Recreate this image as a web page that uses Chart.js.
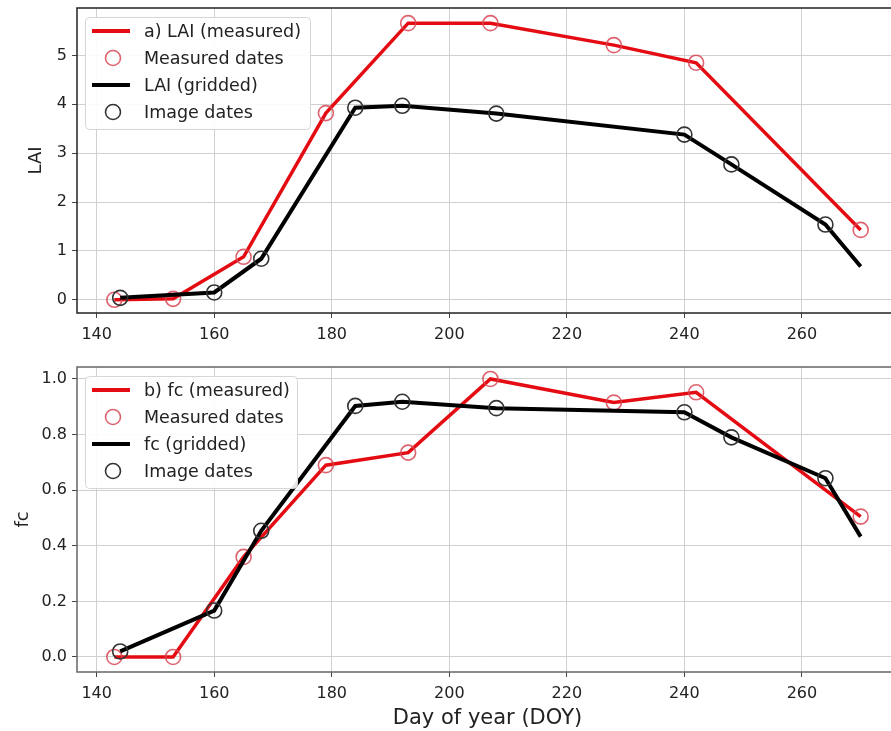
<!DOCTYPE html>
<html>
<head>
<meta charset="utf-8">
<script src="https://cdn.jsdelivr.net/npm/chart.js@4.4.0/dist/chart.umd.min.js"></script>
<style>
  html, body { margin: 0; padding: 0; background: #fff; }
  #clip { width: 891px; height: 731px; overflow: hidden; position: relative; }
  #inner { width: 900px; }
  canvas { display: block; }
</style>
</head>
<body>
<div id="clip">
  <div id="inner">
    <canvas id="laiChart" width="900" height="360" style="width:900px;height:360px"></canvas>
    <canvas id="fcChart" width="900" height="371" style="width:900px;height:371px"></canvas>
  </div>
</div>
<script>
// values
const measuredDoy = [143, 153, 165, 179, 193, 207, 228, 242, 270];
const imageDoy = [144, 160, 168, 184, 192, 208, 240, 248, 264, 270];
const laiMeasured = [0.0, 0.02, 0.88, 3.82, 5.66, 5.66, 5.21, 4.85, 1.43];
const laiGridded = [0.04, 0.15, 0.84, 3.93, 3.97, 3.81, 3.38, 2.77, 1.54, 0.68];
const fcMeasured = [0.0, 0.0, 0.36, 0.69, 0.735, 1.0, 0.915, 0.952, 0.505];
const fcGridded = [0.02, 0.167, 0.454, 0.903, 0.918, 0.895, 0.88, 0.79, 0.643, 0.433];
const doyTicks = [140, 160, 180, 200, 220, 240, 260];
const laiTicks = [0, 1, 2, 3, 4, 5];
const fcTicks = [0, 0.2, 0.4, 0.6, 0.8, 1.0];
const laiLegend = ['a) LAI (measured)', 'Measured dates', 'LAI (gridded)', 'Image dates'];
const fcLegend = ['b) fc (measured)', 'Measured dates', 'fc (gridded)', 'Image dates'];

const RED = 'rgb(228,12,18)';
const RED_RING = 'rgba(215,70,85,0.85)';
const BLACK = '#000';
const BLACK_RING = '#333';
const FONT = "'DejaVu Sans', sans-serif";

function pts(xs, ys) {
  return xs.map((x, i) => ({ x: x, y: ys[i] }));
}

// matplotlib-like frame around the plot area (right side falls outside the clip)
function framePlugin(color) {
  return {
    id: 'frame',
    afterDraw(chart) {
      const a = chart.chartArea, ctx = chart.ctx;
      ctx.save();
      ctx.strokeStyle = color;
      ctx.lineWidth = 1.5;
      ctx.strokeRect(a.left, a.top, a.right - a.left, a.bottom - a.top);
      ctx.restore();
    }
  };
}

// legend drawn inside the axes, upper left
function legendPlugin(labels, boxW) {
  return {
    id: 'insideLegend',
    afterDraw(chart) {
      const ctx = chart.ctx, a = chart.chartArea;
      const x = a.left + 8, y = a.top + 9, h = 112;
      ctx.save();
      ctx.fillStyle = 'rgba(255,255,255,0.9)';
      ctx.strokeStyle = '#d6d6d6';
      ctx.lineWidth = 1;
      ctx.beginPath();
      ctx.roundRect(x + 0.5, y + 0.5, boxW, h, 4);
      ctx.fill();
      ctx.stroke();

      const rows = [14, 41, 68, 95];
      ctx.lineCap = 'butt';
      // red line
      ctx.strokeStyle = RED; ctx.lineWidth = 4;
      ctx.beginPath(); ctx.moveTo(x + 7, y + rows[0]); ctx.lineTo(x + 45, y + rows[0]); ctx.stroke();
      // red ring
      ctx.strokeStyle = RED_RING; ctx.lineWidth = 1.6;
      ctx.beginPath(); ctx.arc(x + 28, y + rows[1], 7.5, 0, Math.PI * 2); ctx.stroke();
      // black line
      ctx.strokeStyle = BLACK; ctx.lineWidth = 4;
      ctx.beginPath(); ctx.moveTo(x + 7, y + rows[2]); ctx.lineTo(x + 45, y + rows[2]); ctx.stroke();
      // black ring
      ctx.strokeStyle = BLACK_RING; ctx.lineWidth = 1.6;
      ctx.beginPath(); ctx.arc(x + 28, y + rows[3], 7.5, 0, Math.PI * 2); ctx.stroke();

      ctx.fillStyle = '#222';
      ctx.font = '17.5px ' + FONT;
      ctx.textBaseline = 'middle';
      labels.forEach((t, i) => ctx.fillText(t, x + 59, y + rows[i] + 1));
      ctx.restore();
    }
  };
}

function makeChart(id, cfg) {
  const ringRadius = imageDoy.map((d, i) => (i < imageDoy.length - 1 ? 7.5 : 0));
  return new Chart(document.getElementById(id), {
    type: 'scatter',
    data: {
      datasets: [
        {
          label: cfg.legend[0],
          data: pts(measuredDoy, cfg.measured),
          showLine: true,
          borderColor: RED,
          borderWidth: 3.5,
          pointRadius: 7.5,
          pointBorderWidth: 1.6,
          pointBorderColor: RED_RING,
          pointBackgroundColor: 'rgba(0,0,0,0)',
          order: 2
        },
        {
          label: cfg.legend[2],
          data: pts(imageDoy, cfg.gridded),
          showLine: true,
          borderColor: BLACK,
          borderWidth: 4,
          pointRadius: ringRadius,
          pointBorderWidth: 1.6,
          pointBorderColor: BLACK_RING,
          pointBackgroundColor: 'rgba(0,0,0,0)',
          order: 1
        }
      ]
    },
    options: {
      responsive: false,
      animation: false,
      devicePixelRatio: 1,
      layout: { autoPadding: false, padding: { top: cfg.padTop, right: 2, left: 0, bottom: 0 } },
      plugins: { legend: { display: false }, tooltip: { enabled: false } },
      scales: {
        x: {
          type: 'linear',
          min: 136.65,
          max: 276.35,
          afterBuildTicks: s => { s.ticks = doyTicks.map(v => ({ value: v })); },
          afterFit: s => { s.height = cfg.xHeight; },
          ticks: { font: { family: FONT, size: 16 }, color: '#222', padding: 7, maxRotation: 0 },
          grid: { color: '#d0d0d0', lineWidth: 1, tickColor: '#444', tickLength: 5 },
          border: { display: false },
          title: {
            display: cfg.xTitle !== '',
            text: cfg.xTitle,
            font: { family: FONT, size: 21 },
            color: '#222',
            padding: { top: 0, bottom: 0 }
          }
        },
        y: {
          min: cfg.yMin,
          max: cfg.yMax,
          afterBuildTicks: s => { s.ticks = cfg.yTicks.map(v => ({ value: v })); },
          afterFit: s => { s.width = 77; s.paddingTop = 0; s.paddingBottom = 0; },
          ticks: {
            font: { family: FONT, size: 16 },
            color: '#222',
            padding: 5,
            callback: cfg.fmt
          },
          grid: { color: '#d0d0d0', lineWidth: 1, tickColor: '#444', tickLength: 5 },
          border: { display: false },
          title: {
            display: true,
            text: cfg.yTitle,
            font: { family: FONT, size: 18 },
            color: '#222',
            padding: { top: cfg.yTitlePad, bottom: 0 }
          }
        }
      }
    },
    plugins: [framePlugin(cfg.frame), legendPlugin(cfg.legend, cfg.legendW)]
  });
}

makeChart('laiChart', {
  measured: laiMeasured,
  gridded: laiGridded,
  legend: laiLegend,
  legendW: 225,
  yMin: -0.27,
  yMax: 5.97,
  yTicks: laiTicks,
  fmt: v => String(v),
  yTitle: 'LAI',
  yTitlePad: 26,
  xTitle: '',
  padTop: 8,
  xHeight: 47,
  frame: '#222'
});

makeChart('fcChart', {
  measured: fcMeasured,
  gridded: fcGridded,
  legend: fcLegend,
  legendW: 212,
  yMin: -0.054,
  yMax: 1.043,
  yTicks: fcTicks,
  fmt: v => v.toFixed(1),
  yTitle: 'fc',
  yTitlePad: 13,
  xTitle: 'Day of year (DOY)',
  padTop: 7,
  xHeight: 59,
  frame: '#666'
});
</script>
</body>
</html>
